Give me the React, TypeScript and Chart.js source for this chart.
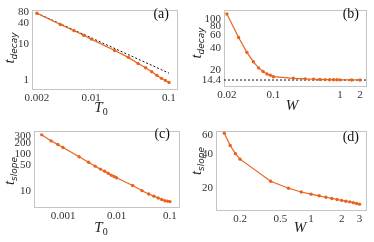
import { useEffect, useRef } from 'react';
import { Chart, registerables } from 'chart.js';
Chart.register(...registerables);

// ---------- data ----------
const A_T0 = [0.002, 0.004, 0.006, 0.008, 0.01, 0.02, 0.03, 0.04, 0.05, 0.06, 0.07, 0.08, 0.09, 0.1];
const A_TDECAY = [74.5, 36, 24.2, 18.0, 14.0, 6.7, 4.3, 2.9, 2.19, 1.7, 1.34, 1.11, 0.97, 0.85];
const A_FIT_T0 = [0.002, 0.1];
const A_FIT = [75, 1.55];
const A_XTICKS = [0.002, 0.01, 0.1];
const A_YTICKS = [1, 10, 40, 80];

const B_W = [0.02, 0.03, 0.04, 0.05, 0.06, 0.07, 0.08, 0.09, 0.1, 0.2, 0.3, 0.4, 0.5, 0.6, 0.7, 0.8, 0.9, 1, 1.5, 2];
const B_TDECAY = [116, 55, 34.5, 25.6, 21.1, 18.8, 17.4, 16.8, 16.0, 15.2, 14.9, 14.75, 14.65, 14.6, 14.55, 14.52, 14.5, 14.48, 14.43, 14.41];
const B_ASYMPTOTE = 14.4;
const B_XTICKS = [0.02, 0.1, 1, 2];
const B_YTICKS = [14.4, 20, 40, 60, 80, 100];

const C_T0 = [0.0004, 0.0006, 0.0008, 0.001, 0.002, 0.003, 0.004, 0.005, 0.006, 0.007, 0.008, 0.009, 0.01, 0.02, 0.03, 0.04, 0.05, 0.06, 0.07, 0.08, 0.09, 0.1];
const C_TSLOPE = [331, 228, 182, 151, 86, 61, 48, 40, 35, 31, 27.5, 25.3, 23.5, 14.6, 10.6, 8.6, 7.55, 6.75, 6.14, 5.7, 5.55, 5.4];
const C_XTICKS = [0.001, 0.01, 0.1];
const C_YTICKS = [10, 50, 100, 200, 300];

const D_W = [0.14, 0.16, 0.18, 0.2, 0.4, 0.6, 0.8, 1, 1.2, 1.4, 1.6, 1.8, 2, 2.2, 2.4, 2.6, 2.8, 3];
const D_TSLOPE = [62.1, 48.3, 40.8, 36.4, 23.1, 20.0, 18.5, 17.7, 17.1, 16.6, 16.2, 15.85, 15.55, 15.3, 15.1, 14.85, 14.6, 14.4];
const D_XTICKS = [0.2, 0.5, 1, 2, 3];
const D_YTICKS = [20, 40, 60];

// ---------- styles ----------
const ORANGE = '#e8641e';
const FRAME = '#c4c4c4';
const TEXT = '#333333';
const SERIF = '"Liberation Serif", "DejaVu Serif", serif';

type Spec = {
  x: number; y: number; w: number; h: number;
  L: number; T: number; R: number; B: number;
  xmin: number; xmax: number; ymin: number; ymax: number;
  xticks: number[]; yticks: number[];
  datasets: any[];
  label: string; labelX: number; labelY: number;
  xTitle: string; xSub: string; xTitleX: number; xTitleY: number;
  ySub: string; yTitleX: number; yTitleY: number;
};

function drawSubText(ctx: CanvasRenderingContext2D, main: string, sub: string, cx: number, cy: number, mainFont: string, subFont: string, drop: number) {
  ctx.font = mainFont;
  const wm = ctx.measureText(main).width;
  ctx.font = subFont;
  const ws = ctx.measureText(sub).width;
  const start = cx - (wm + ws) / 2;
  ctx.font = mainFont;
  ctx.fillText(main, start, cy);
  ctx.font = subFont;
  ctx.fillText(sub, start + wm, cy + drop);
}

function overlay(s: Spec) {
  return {
    id: 'overlay',
    beforeDatasetsDraw(chart: any) {
      const { ctx, chartArea: a } = chart;
      ctx.save();
      ctx.strokeStyle = FRAME;
      ctx.lineWidth = 1;
      ctx.strokeRect(Math.round(a.left) + 0.5, Math.round(a.top) + 0.5, Math.round(a.right - a.left) - 1, Math.round(a.bottom - a.top) - 1);
      ctx.restore();
    },
    afterDraw(chart: any) {
      const { ctx } = chart;
      ctx.save();
      ctx.fillStyle = '#111';
      ctx.textBaseline = 'alphabetic';
      ctx.textAlign = 'right';
      ctx.font = `14px ${SERIF}`;
      ctx.fillText(s.label, s.labelX, s.labelY);
      ctx.textAlign = 'left';
      ctx.fillStyle = '#222';
      drawSubText(ctx, s.xTitle, s.xSub, s.xTitleX, s.xTitleY, `italic 15px ${SERIF}`, `10px ${SERIF}`, 3);
      ctx.translate(s.yTitleX, s.yTitleY);
      ctx.rotate(-Math.PI / 2);
      drawSubText(ctx, 't', s.ySub, 0, 0, `italic 15px ${SERIF}`, `italic 9px "DejaVu Sans", sans-serif`, 3);
      ctx.restore();
    },
  };
}

function makeConfig(s: Spec): any {
  const fmt = (v: any) => String(Number(v));
  return {
    type: 'line',
    data: { datasets: s.datasets },
    plugins: [overlay(s)],
    options: {
      animation: false,
      responsive: false,
      devicePixelRatio: 1,
      parsing: false,
      layout: { padding: { left: 0, top: s.T, right: s.w - s.R, bottom: 0 } },
      plugins: { legend: { display: false }, tooltip: { enabled: false }, title: { display: false } },
      scales: {
        x: {
          type: 'logarithmic',
          min: s.xmin,
          max: s.xmax,
          grid: { display: false, drawTicks: false },
          border: { display: false },
          afterFit: (sc: any) => { sc.height = s.h - s.B; },
          afterBuildTicks: (sc: any) => { sc.ticks = s.xticks.map((v) => ({ value: v })); },
          ticks: { autoSkip: false, maxRotation: 0, padding: 2, color: TEXT, font: { family: SERIF, size: 11 }, callback: fmt },
        },
        y: {
          type: 'logarithmic',
          min: s.ymin,
          max: s.ymax,
          grid: { display: false, drawTicks: false },
          border: { display: false },
          afterFit: (sc: any) => { sc.width = s.L; },
          afterBuildTicks: (sc: any) => { sc.ticks = s.yticks.map((v) => ({ value: v })); },
          ticks: { autoSkip: false, padding: 3, color: TEXT, font: { family: SERIF, size: 11 }, callback: fmt },
        },
      },
    },
  };
}

const pts = (xs: number[], ys: number[]) => xs.map((x, i) => ({ x, y: ys[i] }));

const series = (xs: number[], ys: number[]) => ({
  data: pts(xs, ys),
  borderColor: ORANGE,
  backgroundColor: ORANGE,
  borderWidth: 1.2,
  pointRadius: 1.7,
  pointBorderWidth: 0,
  pointBackgroundColor: ORANGE,
  tension: 0,
  order: 1,
});

const dashed = (xs: number[], ys: number[]) => ({
  data: pts(xs, ys),
  borderColor: '#111111',
  borderWidth: 1,
  borderDash: [2, 2],
  pointRadius: 0,
  tension: 0,
  order: 2,
});

const B_XMIN = 0.0181;
const B_XMAX = 2.55;

const SPECS: Spec[] = [
  {
    x: 0, y: 0, w: 187, h: 121, L: 32, T: 2, R: 178, B: 90,
    xmin: 0.00173, xmax: 0.1306, ymin: 0.522, ymax: 94.3,
    xticks: A_XTICKS, yticks: A_YTICKS,
    datasets: [series(A_T0, A_TDECAY), dashed(A_FIT_T0, A_FIT)],
    label: '(a)', labelX: 169, labelY: 18,
    xTitle: 'T', xSub: '0', xTitleX: 101, xTitleY: 112,
    ySub: 'decay', yTitleX: 14, yTitleY: 48,
  },
  {
    x: 187, y: 0, w: 187, h: 121, L: 37, T: 2, R: 180, B: 87,
    xmin: B_XMIN, xmax: B_XMAX, ymin: 11.55, ymax: 133,
    xticks: B_XTICKS, yticks: B_YTICKS,
    datasets: [series(B_W, B_TDECAY), dashed([B_XMIN, B_XMAX], [B_ASYMPTOTE, B_ASYMPTOTE])],
    label: '(b)', labelX: 172, labelY: 18,
    xTitle: 'W', xSub: '', xTitleX: 105, xTitleY: 110,
    ySub: 'decay', yTitleX: 14, yTitleY: 43,
  },
  {
    x: 0, y: 121, w: 187, h: 121, L: 34, T: 2, R: 180, B: 87,
    xmin: 0.000287, xmax: 0.1538, ymin: 3.64, ymax: 430,
    xticks: C_XTICKS, yticks: C_YTICKS,
    datasets: [series(C_T0, C_TSLOPE)],
    label: '(c)', labelX: 170, labelY: 17,
    xTitle: 'T', xSub: '0', xTitleX: 101, xTitleY: 111,
    ySub: 'slope', yTitleX: 14, yTitleY: 50,
  },
  {
    x: 187, y: 121, w: 187, h: 121, L: 29, T: 2, R: 180, B: 90,
    xmin: 0.116, xmax: 3.55, ymin: 12.5, ymax: 65.6,
    xticks: D_XTICKS, yticks: D_YTICKS,
    datasets: [series(D_W, D_TSLOPE)],
    label: '(d)', labelX: 172, labelY: 20,
    xTitle: 'W', xSub: '', xTitleX: 113, xTitleY: 111,
    ySub: 'slope', yTitleX: 14, yTitleY: 40,
  },
];

function Panel({ spec }: { spec: Spec }) {
  const ref = useRef<HTMLCanvasElement | null>(null);
  useEffect(() => {
    if (!ref.current) return;
    const chart = new Chart(ref.current, makeConfig(spec));
    return () => chart.destroy();
  }, [spec]);
  return (
    <canvas
      ref={ref}
      width={spec.w}
      height={spec.h}
      style={{ position: 'absolute', left: spec.x, top: spec.y, width: spec.w, height: spec.h }}
    />
  );
}

export default function App() {
  return (
    <div style={{ position: 'absolute', left: 0, top: 0, width: 374, height: 242, background: '#ffffff' }}>
      {SPECS.map((s, i) => (
        <Panel key={i} spec={s} />
      ))}
    </div>
  );
}
